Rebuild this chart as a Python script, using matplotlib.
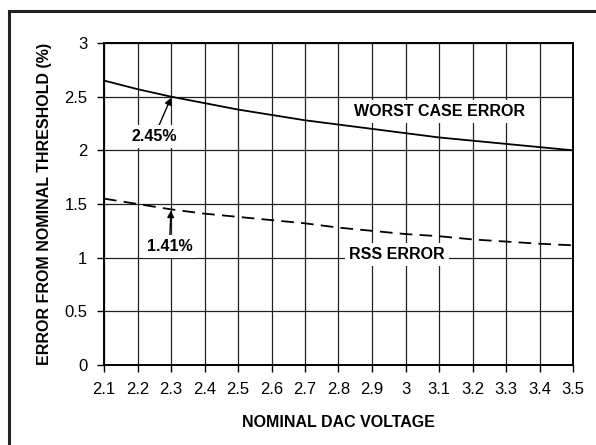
import matplotlib

matplotlib.use("Agg")
import matplotlib.pyplot as plt

plt.rcParams["font.family"] = ["Liberation Sans", "DejaVu Sans"]

# nominal DAC voltage (V)
voltage = [2.1, 2.2, 2.3, 2.4, 2.5, 2.6, 2.7, 2.8, 2.9, 3.0, 3.1, 3.2, 3.3, 3.4, 3.5]
# error from nominal threshold (%)
worst_case = [2.65, 2.57, 2.50, 2.44, 2.38, 2.33, 2.28, 2.24, 2.20, 2.16, 2.12, 2.09, 2.06, 2.03, 2.00]
rss = [1.55, 1.50, 1.45, 1.41, 1.38, 1.35, 1.32, 1.28, 1.25, 1.22, 1.20, 1.17, 1.15, 1.13, 1.115]

x_ticks = [2.1, 2.2, 2.3, 2.4, 2.5, 2.6, 2.7, 2.8, 2.9, 3.0, 3.1, 3.2, 3.3, 3.4, 3.5]
x_labels = ["2.1", "2.2", "2.3", "2.4", "2.5", "2.6", "2.7", "2.8", "2.9", "3",
            "3.1", "3.2", "3.3", "3.4", "3.5"]
y_ticks = [0, 0.5, 1, 1.5, 2, 2.5, 3]
y_labels = ["0", "0.5", "1", "1.5", "2", "2.5", "3"]

fig = plt.figure(figsize=(5.96, 4.45), dpi=100)
ax = fig.add_axes([104 / 596, 1 - 365 / 445, 469 / 596, 322 / 445])

# outer frame (left and top edges only visible)
fig.add_artist(plt.Line2D([9 / 596, 9 / 596], [0, 1 - 10.5 / 445],
                          transform=fig.transFigure, color="#222", lw=2.2))
fig.add_artist(plt.Line2D([9 / 596, 1], [1 - 10.5 / 445, 1 - 10.5 / 445],
                          transform=fig.transFigure, color="#222", lw=2.2))

ax.plot(voltage, worst_case, color="black", lw=1.3, zorder=3)
ax.plot(voltage, rss, color="black", lw=1.3, ls=(0, (7, 4)), zorder=3)

ax.set_xlim(2.1, 3.5)
ax.set_ylim(0, 3)
ax.set_xticks(x_ticks)
ax.set_xticklabels(x_labels)
ax.set_yticks(y_ticks)
ax.set_yticklabels(y_labels)
ax.tick_params(direction="out", length=5, width=1, labelsize=12, pad=7)
ax.grid(True, color="#222", lw=0.9)
ax.set_axisbelow(True)
for s in ax.spines.values():
    s.set_linewidth(1.4)

ax.set_xlabel("NOMINAL DAC VOLTAGE", fontsize=11.5, fontweight="bold", labelpad=13)
ax.set_ylabel("ERROR FROM NOMINAL THRESHOLD (%)", fontsize=11.5, fontweight="bold",
              labelpad=9)

box = dict(boxstyle="square,pad=0.25", fc="white", ec="none")
ax.text(3.1, 2.36, "WORST CASE ERROR", fontsize=11.5, fontweight="bold",
        ha="center", va="center", bbox=box, zorder=4)
ax.text(2.975, 1.025, "RSS ERROR", fontsize=11.5, fontweight="bold",
        ha="center", va="center", bbox=box, zorder=4)

arrow = dict(arrowstyle="-|>", color="black", lw=1, mutation_scale=10,
             shrinkA=0, shrinkB=0)
ax.annotate("2.45%", xy=(2.3, 2.49), xytext=(2.25, 2.13), fontsize=11.5,
            fontweight="bold", ha="center", va="center", bbox=box,
            arrowprops=arrow, zorder=4)
ax.annotate("1.41%", xy=(2.3, 1.44), xytext=(2.295, 1.10), fontsize=11.5,
            fontweight="bold", ha="center", va="center", bbox=box,
            arrowprops=arrow, zorder=4)

fig.savefig("out.png", dpi=100)
